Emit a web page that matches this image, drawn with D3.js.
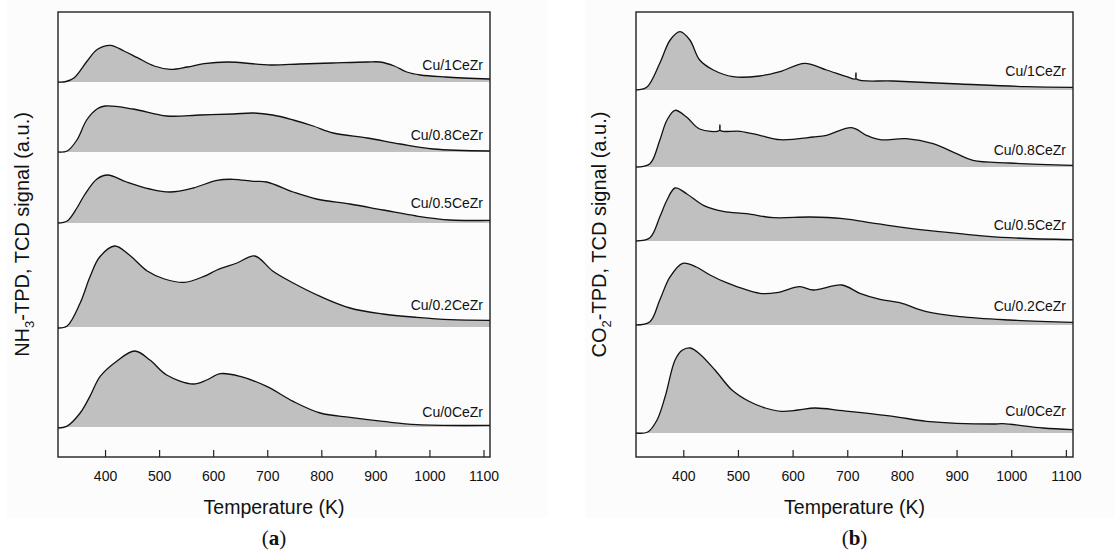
<!DOCTYPE html>
<html>
<head>
<meta charset="utf-8">
<script src="https://cdn.jsdelivr.net/npm/d3@7"></script>
<style>
  body { margin: 0; background: #fff; }
  text { font-family: "Liberation Sans", Arial, sans-serif; fill: #111; }
</style>
</head>
<body>
<svg width="1115" height="550"></svg>
<script>
// sample names, top to bottom
var samples = ['Cu/1CeZr', 'Cu/0.8CeZr', 'Cu/0.5CeZr', 'Cu/0.2CeZr', 'Cu/0CeZr'];
var xTicks = [400, 500, 600, 700, 800, 900, 1000, 1100];

// vertical offset of each trace (a.u.)
var nh3Offset = [375, 305, 234, 130, 30];
var co2Offset = [367, 290, 216, 132, 24];

// NH3-TPD traces, [temperature K, signal a.u.]
var nh3_1 = [[313,0],[328,0.5],[343,4.3],[367,21],[386,32.7],[410,36.7],[435,31],[460,24.3],[491,16],[521,12.7],[552,15],[583,18.3],[626,20],[706,17],[760,18],[820,19],[885,20],[909,20],[935,16],[958,10],[983,7],[1030,5],[1112,3]];
var nh3_08 = [[313,0],[330,1],[348,12],[366,32],[385,43],[400,46],[452,43],[514,36],[576,37],[637,38],[674,39],[710,37],[748,32],[785,26],[822,19],[885,14],[946,8],[1007,3],[1112,1]];
var nh3_05 = [[313,0],[330,2],[348,15],[362,28],[385,44],[405,48],[440,41],[483,34],[520,31],[563,35],[607,42.7],[637,43.7],[674,41.7],[699,41],[748,31],[791,24],[853,19],[914,13],[976,7],[1038,3],[1112,2.7]];
var nh3_02 = [[313,-1],[330,1],[354,24],[372,50],[390,70],[418,81],[445,72],[478,56],[510,48],[546,44.6],[583,50.6],[607,57],[644,64],[677,71],[710,56],[748,44],[798,30.6],[853,19],[914,13],[977,9.6],[1038,7.3],[1112,6.6]];
var nh3_0 = [[313,-1],[329,0.6],[354,14],[372,30.6],[391,50.6],[421,65.6],[455,76],[483,67],[514,52],[563,43],[588,47],[613,53.3],[650,50.6],[699,40.6],[748,25.6],[798,14],[853,9.6],[914,5.6],[977,2.3],[1112,1.6]];

// CO2-TPD traces, [temperature K, signal a.u.]
var co2_1 = [[313,0],[333,2.7],[357,26.7],[376,50],[394,58.3],[412,50],[430,30],[455,20],[491,13.3],[540,14],[577,18.3],[622,26.7],[662,20],[699,13.3],[715,11],[716,17],[717,11],[784,9],[906,6],[1028,3.3],[1113,2.7]];
var co2_08 = [[313,0],[339,3.3],[357,26.7],[370,46.7],[385,56.7],[406,50],[430,38],[466,36.5],[467,42],[468,36.5],[504,35.7],[540,31.7],[577,27.3],[638,30],[662,31.7],[708,39.3],[735,31.7],[760,27.3],[808,28.3],[857,23.3],[900,13.3],[930,6.7],[997,4],[1113,1.7]];
var co2_05 = [[313,0],[339,3.3],[357,24],[370,40.7],[385,53],[406,47.3],[437,35.7],[473,29.7],[516,27.3],[565,23.3],[632,24],[692,22.3],[754,17.3],[833,11.3],[906,7.3],[997,3.3],[1113,1.3]];
var co2_02 = [[313,0],[339,3.3],[357,25],[376,48.3],[399,61.7],[424,58],[449,50],[479,42.3],[540,31.7],[571,32.3],[613,38.3],[638,35],[690,40],[723,31.7],[760,25.7],[796,22.3],[845,13.3],[906,8.3],[997,5],[1113,2.7]];
var co2_0 = [[313,0],[335,1],[352,13],[367,36.7],[385,73],[398,82.7],[413,85],[430,79],[458,63],[489,43],[520,31.7],[550,25],[580,21.7],[610,23],[641,25],[692,22.3],[784,16.7],[845,11.7],[967,9],[985,9.3],[1058,5],[1113,3.3]];

var nh3Series = [nh3_1, nh3_08, nh3_05, nh3_02, nh3_0];
var co2Series = [co2_1, co2_08, co2_05, co2_02, co2_0];

// label lift above trace baseline (px)
var nh3LabelLift = [12, 12.5, 15.5, 17.5, 10];
var co2LabelLift = [14, 12, 11, 14, 17];

var panels = [
   { left: 58, right: 490, top: 12, bottom: 457, domain: [313, 1112], series: nh3Series, offset: nh3Offset, lift: nh3LabelLift,
     ylab: ['NH', '3', '-TPD, TCD signal (a.u.)'], ylabX: 22, tag: 'a' },
   { left: 636, right: 1073, top: 12, bottom: 457, domain: [313.5, 1113], series: co2Series, offset: co2Offset, lift: co2LabelLift,
     ylab: ['CO', '2', '-TPD, TCD signal (a.u.)'], ylabX: 599, tag: 'b' }
];

var svg = d3.select('svg');

// faint sub-figure backgrounds
svg.append('rect').attr('x', 7).attr('y', 0).attr('width', 541).attr('height', 518).attr('fill', '#fcfcfc');
svg.append('rect').attr('x', 585).attr('y', 0).attr('width', 530).attr('height', 518).attr('fill', '#fcfcfc');

panels.forEach(function(p, pi) {

   var x = d3.scaleLinear().domain(p.domain).range([p.left, p.right]);
   var y = d3.scaleLinear().domain([0, p.bottom - p.top]).range([p.bottom, p.top]);

   var clipId = 'clip' + pi;
   svg.append('clipPath').attr('id', clipId)
      .append('rect')
      .attr('x', p.left).attr('y', p.top)
      .attr('width', p.right - p.left).attr('height', p.bottom - p.top);

   var g = svg.append('g').attr('clip-path', 'url(#' + clipId + ')');

   p.series.forEach(function(s, i) {
      var off = p.offset[i];

      var area = d3.area()
         .x(function(d) { return x(d[0]); })
         .y0(y(off))
         .y1(function(d) { return y(off + Math.max(0, d[1])); })
         .curve(d3.curveCatmullRom.alpha(0.5));

      var line = d3.line()
         .x(function(d) { return x(d[0]); })
         .y(function(d) { return y(off + d[1]); })
         .curve(d3.curveCatmullRom.alpha(0.5));

      g.append('path')
         .attr('d', area(s))
         .attr('fill', '#c0c0c0');

      g.append('path')
         .attr('d', line(s))
         .attr('fill', 'none')
         .attr('stroke', '#111')
         .attr('stroke-width', 1.3);

      svg.append('text')
         .attr('x', p.right - 7)
         .attr('y', y(off) - p.lift[i])
         .attr('text-anchor', 'end')
         .style('font-size', '14px')
         .text(samples[i]);
   });

   // frame
   svg.append('rect')
      .attr('x', p.left).attr('y', p.top)
      .attr('width', p.right - p.left).attr('height', p.bottom - p.top)
      .attr('fill', 'none')
      .attr('stroke', '#222')
      .attr('stroke-width', 1.4);

   // bottom axis, ticks pointing inward
   var axis = d3.axisBottom(x).tickValues(xTicks).tickFormat(d3.format('d'))
      .tickSizeInner(-7).tickSizeOuter(0).tickPadding(14);
   var ax = svg.append('g')
      .attr('transform', 'translate(0,' + p.bottom + ')')
      .call(axis);
   ax.select('.domain').remove();
   ax.selectAll('line').attr('stroke', '#222').attr('stroke-width', 1.2);
   ax.selectAll('text')
      .style('font-size', '14px')
      .style('font-family', '"Liberation Sans", Arial, sans-serif')
      .attr('fill', '#111');

   var cx = (p.left + p.right) / 2;

   svg.append('text')
      .attr('x', cx)
      .attr('y', 514)
      .attr('text-anchor', 'middle')
      .style('font-size', '19.5px')
      .text('Temperature (K)');

   var yl = svg.append('text')
      .attr('transform', 'translate(' + p.ylabX + ',' + ((p.top + p.bottom) / 2) + ') rotate(-90)')
      .attr('text-anchor', 'middle')
      .attr('dy', '0.35em')
      .style('font-size', '20px');
   yl.append('tspan').text(p.ylab[0]);
   yl.append('tspan').attr('dy', 5).style('font-size', '13px').text(p.ylab[1]);
   yl.append('tspan').attr('dy', -5).text(p.ylab[2]);

   var tg = svg.append('text')
      .attr('x', cx)
      .attr('y', 545)
      .attr('text-anchor', 'middle')
      .style('font-family', '"Liberation Serif", "DejaVu Serif", serif')
      .style('font-size', '21px');
   tg.append('tspan').text('(');
   tg.append('tspan').style('font-weight', 'bold').text(p.tag);
   tg.append('tspan').text(')');
});
</script>
</body>
</html>
